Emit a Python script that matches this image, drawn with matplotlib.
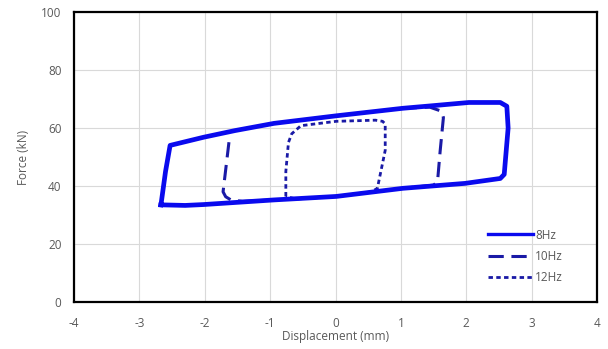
import matplotlib
matplotlib.use("Agg")
import matplotlib.pyplot as plt

plt.rcParams['font.family'] = ['Open Sans', 'DejaVu Sans']
plt.rcParams['axes.unicode_minus'] = False

# Hysteresis loops: displacement (mm) vs force (kN)
x_8hz = [-2.67, -2.30, -2.02, -0.94, 0.01, 1.03, 1.98, 2.52, 2.58, 2.64, 2.62, 2.52, 2.04, 1.44,
         1.03, 0.01, -0.94, -1.54, -2.02, -2.53, -2.60, -2.67]
y_8hz = [33.5, 33.3, 33.6, 35.2, 36.4, 39.2, 40.9, 42.6, 44.0, 60.0, 67.5, 68.8, 68.8, 67.6,
         66.8, 64.2, 61.6, 59.1, 56.8, 54.0, 45.0, 33.5]

x_10hz = [-1.63, -1.72, -1.68, -1.60, -1.42, -0.94, 0.01, 1.03, 1.50, 1.56, 1.60, 1.65,
          1.62, 1.44, 1.03, 0.01, -0.94]
y_10hz = [55.1, 38.0, 36.3, 35.2, 34.7, 35.2, 36.4, 39.2, 40.3, 41.5, 52.0, 63.6,
          65.8, 67.2, 66.8, 64.2, 61.6]

x_12hz = [-0.76, -0.76, -0.72, -0.67, -0.53, 0.01, 0.61, 0.72, 0.76, 0.76, 0.64, 0.55,
          0.01, -0.60, -0.76]
y_12hz = [36.4, 45.0, 55.0, 58.0, 60.8, 62.3, 62.7, 62.3, 61.4, 52.3, 39.2, 38.0,
          36.4, 35.5, 36.4]

x_ticks = [-4, -3, -2, -1, 0, 1, 2, 3, 4]
y_ticks = [0, 20, 40, 60, 80, 100]
labels = ['8Hz', '10Hz', '12Hz']

fig = plt.figure(figsize=(6.08, 3.49), dpi=100)
ax = fig.add_axes([0.1217, 0.1347, 0.8603, 0.8309])

ax.plot(x_10hz, y_10hz, color='#1a1aa6', lw=2.2, dashes=(5, 2.5),
        solid_capstyle='butt', label=labels[1], zorder=2)
ax.plot(x_12hz, y_12hz, color='#1a1aa6', lw=2.0, dashes=(1.6, 1.2),
        label=labels[2], zorder=2)
ax.plot(x_8hz, y_8hz, color='#0a0aee', lw=3.4, solid_joinstyle='round',
        label=labels[0], zorder=3)

ax.set_xlim(-4, 4)
ax.set_ylim(0, 100)
ax.set_xticks(x_ticks)
ax.set_yticks(y_ticks)
ax.grid(True, color='#d9d9d9', lw=0.8)
ax.set_axisbelow(True)
for s in ax.spines.values():
    s.set_color('black')
    s.set_linewidth(1.6)
ax.tick_params(length=0, labelsize=8.5, labelcolor='#595959')
ax.tick_params(axis='x', pad=11)
ax.tick_params(axis='y', pad=9)

ax.set_xlabel('Displacement (mm)', fontsize=8.5, color='#595959', labelpad=0)
ax.set_ylabel('Force (kN)', fontsize=8.5, color='#595959', labelpad=8)

h, l = ax.get_legend_handles_labels()
order = [2, 0, 1]
leg = ax.legend([h[i] for i in order], [l[i] for i in order], frameon=False,
                loc='lower right', bbox_to_anchor=(0.955, 0.025), fontsize=8.5,
                handlelength=3.8, handletextpad=0.2, labelspacing=0.7)
for t in leg.get_texts():
    t.set_color('#595959')
leg.get_lines()[0].set_linewidth(2.4)

fig.savefig('out.png', dpi=100)
